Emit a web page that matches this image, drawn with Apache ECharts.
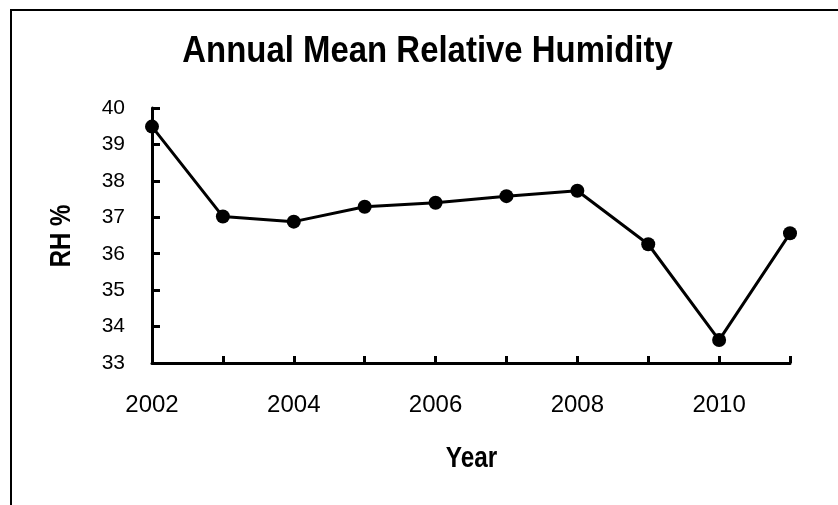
<!DOCTYPE html>
<html>
<head>
<meta charset="utf-8">
<script src="https://cdn.jsdelivr.net/npm/echarts@6/dist/echarts.min.js"></script>
<style>
  html, body { margin: 0; padding: 0; background: #fff; }
  #chart { width: 838px; height: 505px; }
</style>
</head>
<body>
<div id="chart"></div>
<script>
// Annual mean relative humidity, 2002-2011
const years = ['2002', '2003', '2004', '2005', '2006', '2007', '2008', '2009', '2010', '2011'];
const rhPercent = [39.49, 37.02, 36.88, 37.29, 37.40, 37.58, 37.73, 36.26, 33.63, 36.56];
const yTicks = { min: 33, max: 40, step: 1 };
const titleText = 'Annual Mean Relative Humidity';
const xName = 'Year';
const yName = 'RH %';

const font = '"Liberation Sans", Arial, sans-serif';

// condensed bold caption, drawn as a graphic text element
function caption(text, x, y, size, squeeze, rotation) {
  return {
    type: 'text',
    x: x,
    y: y,
    rotation: rotation || 0,
    scaleX: squeeze,
    silent: true,
    style: {
      text: text,
      fontFamily: font,
      fontWeight: 'bold',
      fontSize: size,
      fill: '#000',
      align: 'center',
      verticalAlign: 'middle',
      textAlign: 'center',
      textVerticalAlign: 'middle'
    }
  };
}

const chart = echarts.init(document.getElementById('chart'));
chart.setOption({
  animation: false,
  backgroundColor: '#ffffff',
  graphic: [
    {
      type: 'rect',
      shape: { x: 11, y: 10, width: 860, height: 540 },
      style: { fill: 'none', stroke: '#000', lineWidth: 2 },
      silent: true
    },
    caption(titleText, 427.5, 52, 37, 0.89),
    caption(xName, 471.5, 459, 29, 0.84),
    caption(yName, 62, 236, 30, 0.8, Math.PI / 2)
  ],
  grid: { left: 152, right: 48, top: 108, bottom: 142, containLabel: false },
  xAxis: {
    type: 'category',
    data: years,
    boundaryGap: false,
    axisLine: { lineStyle: { color: '#000', width: 3 } },
    axisTick: { show: true, inside: true, length: 7, interval: 0, lineStyle: { color: '#000', width: 3 } },
    axisLabel: { interval: 1, margin: 30, fontFamily: font, fontSize: 24, color: '#000' },
    splitLine: { show: false }
  },
  yAxis: {
    type: 'value',
    min: yTicks.min,
    max: yTicks.max,
    interval: yTicks.step,
    axisLine: { show: true, lineStyle: { color: '#000', width: 3 } },
    axisTick: { show: true, inside: true, length: 8, lineStyle: { color: '#000', width: 3 } },
    axisLabel: { margin: 27, fontFamily: font, fontSize: 21, color: '#000' },
    splitLine: { show: false }
  },
  series: [{
    type: 'line',
    data: rhPercent,
    symbol: 'circle',
    symbolSize: 14,
    itemStyle: { color: '#000' },
    lineStyle: { color: '#000', width: 3 },
    z: 5
  }]
});
</script>
</body>
</html>
